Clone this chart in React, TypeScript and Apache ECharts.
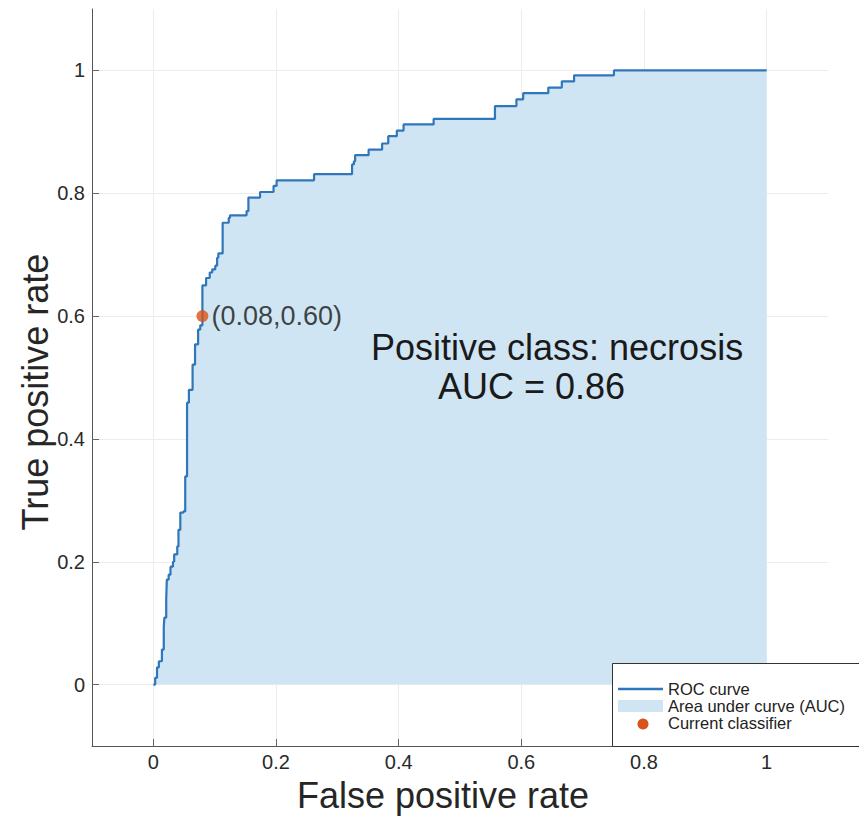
import React, { useEffect, useRef } from 'react';
import * as echarts from 'echarts';

// ROC staircase corners (false positive rate, true positive rate)
const fpr = [0, 0.003, 0.006, 0.009, 0.014, 0.017, 0.018, 0.021, 0.022, 0.025, 0.028, 0.032, 0.034, 0.039, 0.041, 0.044, 0.049, 0.052, 0.055, 0.058, 0.064, 0.068, 0.073, 0.0765, 0.08, 0.086, 0.092, 0.096, 0.101, 0.104, 0.106, 0.113, 0.123, 0.125, 0.152, 0.155, 0.174, 0.196, 0.201, 0.262, 0.324, 0.327, 0.329, 0.351, 0.373, 0.383, 0.397, 0.408, 0.457, 0.557, 0.592, 0.603, 0.644, 0.666, 0.686, 0.751, 1];
const tpr = [0, 0.011, 0.028, 0.038, 0.057, 0.093, 0.109, 0.138, 0.171, 0.179, 0.192, 0.2, 0.212, 0.225, 0.252, 0.28, 0.282, 0.339, 0.459, 0.48, 0.521, 0.554, 0.578, 0.585, 0.65, 0.662, 0.671, 0.676, 0.682, 0.695, 0.702, 0.752, 0.76, 0.764, 0.771, 0.793, 0.802, 0.812, 0.821, 0.831, 0.847, 0.852, 0.862, 0.871, 0.881, 0.893, 0.902, 0.912, 0.921, 0.942, 0.953, 0.963, 0.972, 0.982, 0.992, 1, 1];
const classifierPoint = [0.08, 0.6];
const tickValues = [0, 0.2, 0.4, 0.6, 0.8, 1];
const legendLabels = ['ROC curve', 'Area under curve (AUC)', 'Current classifier'];
const positiveClass = 'necrosis';
const aucValue = 0.86;
const xTitle = 'False positive rate';
const yTitle = 'True positive rate';

const FONT = '"Liberation Sans", Arial, Helvetica, sans-serif';
const LINE_COLOR = '#2f77ba';
const AREA_COLOR = '#d0e5f3';
const DOT_COLOR = '#d95319';

export default function App() {
  const ref = useRef<HTMLDivElement>(null);
  useEffect(() => {
    if (!ref.current) return;
    const chart = echarts.init(ref.current, undefined, { renderer: 'svg' });
    const axisCommon = {
      type: 'value',
      min: -0.1,
      max: 1.1,
      axisLine: { show: true, onZero: false, lineStyle: { color: '#555', width: 1 } },
      axisTick: { show: true, inside: true, length: 7, customValues: tickValues, lineStyle: { color: '#666', width: 1 } },
      axisLabel: { customValues: tickValues, fontSize: 20, color: '#2a2a2a', fontFamily: FONT },
      splitLine: { show: true, lineStyle: { color: '#ececec', width: 1 } },
    };
    const legendX = 618;
    const legendRows = [689, 706, 723];
    chart.setOption({
      animation: false,
      backgroundColor: '#fff',
      grid: { left: 92, top: 9, right: 31, bottom: 71 },
      xAxis: { ...axisCommon, position: 'bottom', axisLabel: { ...axisCommon.axisLabel, margin: 6 } },
      yAxis: { ...axisCommon, position: 'left', axisLabel: { ...axisCommon.axisLabel, margin: 7 } },
      series: [
        {
          name: legendLabels[0],
          type: 'line',
          step: 'end',
          showSymbol: false,
          data: fpr.map((x, i) => [x, tpr[i]]),
          lineStyle: { color: LINE_COLOR, width: 2.2 },
          itemStyle: { color: LINE_COLOR },
          areaStyle: { color: AREA_COLOR, opacity: 1 },
          z: 2,
        },
        {
          name: legendLabels[2],
          type: 'scatter',
          data: [classifierPoint],
          symbolSize: 12,
          itemStyle: { color: DOT_COLOR },
          label: {
            show: true,
            position: 'right',
            distance: 3,
            fontSize: 27,
            fontFamily: FONT,
            color: '#151515',
            formatter: (p: any) => `(${p.value[0].toFixed(2)},${p.value[1].toFixed(2)})`,
          },
          z: 5,
        },
      ],
      graphic: [
        {
          type: 'text', x: 443, y: 795, z: 100,
          style: { text: xTitle, fontSize: 36, fontFamily: FONT, fill: '#262626', align: 'center', verticalAlign: 'middle' },
        },
        {
          type: 'text', x: 35, y: 392, rotation: Math.PI / 2, z: 100,
          style: { text: yTitle, fontSize: 36, fontFamily: FONT, fill: '#262626', align: 'center', verticalAlign: 'middle' },
        },
        {
          type: 'text', x: 371, y: 347, z: 100,
          style: { text: `Positive class: ${positiveClass}`, fontSize: 36, fontFamily: FONT, fill: '#1a1a1a', align: 'left', verticalAlign: 'middle' },
        },
        {
          type: 'text', x: 438, y: 386, z: 100,
          style: { text: `AUC = ${aucValue.toFixed(2)}`, fontSize: 36, fontFamily: FONT, fill: '#1a1a1a', align: 'left', verticalAlign: 'middle' },
        },
        {
          type: 'rect', z: 100,
          shape: { x: 612.5, y: 663.5, width: 260, height: 83 },
          style: { fill: '#fff', stroke: '#333', lineWidth: 1 },
        },
        {
          type: 'line', z: 101,
          shape: { x1: legendX, y1: legendRows[0], x2: legendX + 45, y2: legendRows[0] },
          style: { stroke: LINE_COLOR, lineWidth: 2.5 },
        },
        {
          type: 'rect', z: 101,
          shape: { x: legendX, y: legendRows[1] - 6, width: 45, height: 12 },
          style: { fill: AREA_COLOR },
        },
        {
          type: 'circle', z: 101,
          shape: { cx: legendX + 25, cy: legendRows[2] + 1, r: 5.5 },
          style: { fill: DOT_COLOR },
        },
        ...legendLabels.map((t, i) => ({
          type: 'text', x: 668, y: legendRows[i], z: 101,
          style: { text: t, fontSize: 16.5, lineHeight: 15, fontFamily: FONT, fill: '#222', align: 'left', verticalAlign: 'middle' },
        })),
      ],
    });
    return () => chart.dispose();
  }, []);
  return <div ref={ref} style={{ position: 'absolute', left: 0, top: 0, width: 859, height: 817 }} />;
}
